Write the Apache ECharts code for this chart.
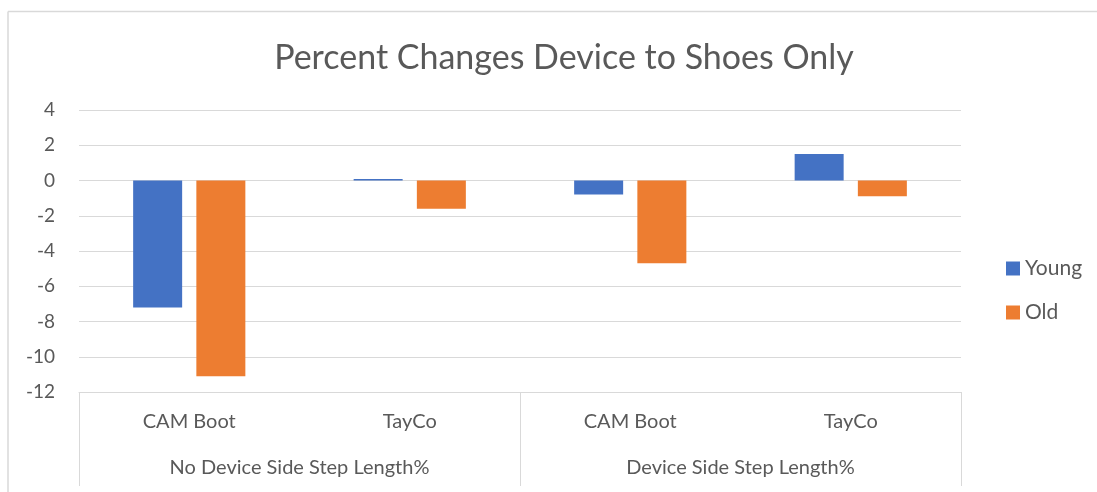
<!DOCTYPE html>
<html>
<head>
<meta charset="utf-8">
<script src="https://cdn.jsdelivr.net/npm/echarts@6/dist/echarts.min.js"></script>
<style>html,body{margin:0;padding:0;background:#fff}#c{width:1097px;height:492px}</style>
</head>
<body>
<div id="c"></div>
<script>
const categories = ["CAM Boot", "TayCo", "CAM Boot", "TayCo"];
const groups = ["No Device Side Step Length%", "Device Side Step Length%"];
const young = [-7.2, 0.08, -0.8, 1.5];
const old = [-11.1, -1.6, -4.7, -0.9];
const seriesNames = ["Young", "Old"];

const FONT = "Lato";
const TXT = "#595959";
const chart = echarts.init(document.getElementById('c'));
chart.setOption({
  animation: false,
  backgroundColor: "#fff",
  title: {
    text: "Percent Changes Device to Shoes Only",
    left: 559, top: 36, textAlign: "center",
    textStyle: {fontFamily: FONT, fontSize: 34, fontWeight: "normal", color: TXT}
  },
  legend: {
    orient: "vertical", left: 1001, top: 253, itemWidth: 14, itemHeight: 14,
    itemGap: 23, icon: "rect",
    textStyle: {fontFamily: FONT, fontSize: 21, color: TXT}
  },
  grid: {left: 79, right: 136, top: 110, bottom: 100},
  xAxis: [
    {
      type: "category", data: categories, position: "bottom",
      axisLine: {show: false}, axisTick: {show: false},
      axisLabel: {margin: 20, fontFamily: FONT, fontSize: 20, color: TXT}
    },
    {
      type: "category", data: groups, position: "bottom", offset: 0,
      axisLine: {show: true, lineStyle: {color: "#d9d9d9"}},
      axisTick: {show: true, length: 94, interval: 0, lineStyle: {color: "#d9d9d9"}},
      axisLabel: {margin: 66, fontFamily: FONT, fontSize: 20, color: TXT}
    }
  ],
  yAxis: {
    type: "value", min: -12, max: 4, interval: 2,
    axisLine: {show: false}, axisTick: {show: false},
    splitLine: {lineStyle: {color: "#d9d9d9", width: 1}},
    axisLabel: {margin: 24, fontFamily: FONT, fontSize: 19, color: TXT}
  },
  series: [
    {name: seriesNames[0], type: "bar", data: young, xAxisIndex: 0, barWidth: 49, barGap: "29%",
     itemStyle: {color: "#4472C4"}},
    {name: seriesNames[1], type: "bar", data: old, xAxisIndex: 0, barWidth: 49, barGap: "29%",
     itemStyle: {color: "#ED7D31"}}
  ],
  graphic: [
    {type: "line", shape: {x1: 8, y1: 11.5, x2: 1097, y2: 11.5}, style: {stroke: "#d9d9d9", lineWidth: 1.5}, silent: true},
    {type: "line", shape: {x1: 8, y1: 11.5, x2: 8, y2: 492}, style: {stroke: "#d9d9d9", lineWidth: 1.5}, silent: true}
  ]
});
</script>
</body>
</html>
